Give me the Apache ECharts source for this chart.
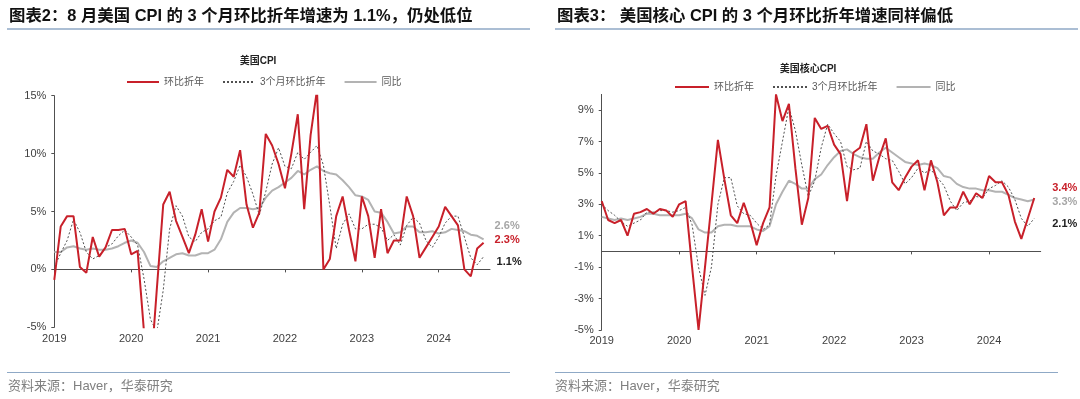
<!DOCTYPE html>
<html>
<head>
<meta charset="utf-8">
<script src="https://cdn.jsdelivr.net/npm/echarts@6/dist/echarts.min.js"></script>
<style>
  html, body { margin: 0; padding: 0; background: #fff; }
  #main { width: 1080px; height: 399px; }
</style>
</head>
<body>
<div id="main"></div>
<script>
// months 2019-01 .. 2024-09 (data runs to 2024-08)
const months = [];
for (let y = 2019; y <= 2024; y++) {
  for (let m = 1; m <= 12; m++) {
    if (y === 2024 && m > 9) break;
    months.push(y + '-' + String(m).padStart(2, '0'));
  }
}

// 美国CPI
const cpiMom = [
  -0.9, 3.7, 4.6, 4.6, 0.2, -0.3, 2.8, 1.1, 1.9, 3.4, 3.4, 3.5,
  1.3, 1.6, -5.4, -9.2, -1.7, 5.6, 6.7, 4.2, 2.8, 1.4, 3.0, 5.2,
  2.4, 5.0, 6.2, 8.6, 8.0, 10.3, 5.6, 3.6, 4.9, 11.7, 10.7, 9.1,
  7.0, 10.0, 13.4, 5.2, 11.6, 15.5, 0.0, 0.9, 4.6, 6.3, 3.4, 0.7,
  6.3, 4.6, 1.0, 5.2, 1.4, 2.5, 2.5, 6.3, 4.6, 1.0, 1.9, 2.8,
  3.7, 5.4, 4.6, 3.8, 0.0, -0.6, 1.8, 2.3
];
const cpi3m = [
  0.2, 1.4, 2.5, 4.3, 3.2, 1.5, 0.9, 1.2, 1.9, 2.2, 2.9, 3.4,
  2.8, 2.1, -0.8, -4.3, -5.4, -1.8, 3.5, 5.5, 4.6, 2.8, 2.4, 3.2,
  3.5, 4.2, 4.5, 6.6, 7.6, 9.0, 8.0, 6.5, 4.7, 6.7, 9.1, 10.5,
  8.9, 8.7, 10.1, 9.5, 10.1, 10.7, 9.0, 5.5, 1.8, 3.9, 4.8, 3.5,
  3.5, 3.9, 3.9, 3.6, 2.5, 3.0, 2.1, 3.8, 4.5, 4.0, 2.5, 1.9,
  2.8, 4.0, 4.6, 4.6, 2.8, 1.0, 0.4, 1.1
];
const cpiYoy = [
  1.5, 1.5, 1.9, 2.0, 1.8, 1.7, 1.8, 1.7, 1.7, 1.8, 2.0, 2.3,
  2.5, 2.3, 1.5, 0.3, 0.2, 0.7, 1.0, 1.3, 1.4, 1.2, 1.2, 1.4,
  1.4, 1.7, 2.6, 4.1, 4.9, 5.3, 5.3, 5.2, 5.3, 6.2, 6.8, 7.1,
  7.5, 7.9, 8.5, 8.2, 8.6, 8.9, 8.5, 8.3, 8.2, 7.7, 7.1, 6.4,
  6.3, 6.0, 5.0, 4.9, 4.1, 3.1, 3.2, 3.7, 3.7, 3.2, 3.2, 3.3,
  3.1, 3.2, 3.5, 3.4, 3.3, 3.0, 2.9, 2.6
];

// 美国核心CPI
const coreMom = [
  3.2, 2.0, 1.8, 2.0, 1.0, 2.4, 2.5, 2.7, 2.4, 2.7, 2.6, 2.2,
  3.0, 3.2, -1.0, -5.0, -1.0, 3.0, 7.1, 4.6, 2.3, 1.8, 3.1, 1.9,
  0.4, 1.8, 2.8, 10.0, 8.3, 9.4, 5.3, 1.7, 3.4, 8.5, 7.8, 8.0,
  6.8, 6.2, 3.2, 6.3, 6.6, 8.1, 4.5, 6.0, 7.2, 4.4, 3.9, 4.7,
  5.4, 5.8, 3.9, 5.8, 4.4, 2.3, 2.8, 2.8, 3.8, 3.0, 3.7, 3.4,
  4.8, 4.4, 4.4, 3.6, 1.9, 0.8, 2.1, 3.4
];
const core3m = [
  3.0, 2.6, 2.3, 1.9, 1.6, 1.8, 2.0, 2.5, 2.5, 2.6, 2.6, 2.5,
  2.6, 2.8, 1.7, -1.0, -2.8, -1.0, 3.0, 4.7, 4.7, 2.9, 2.4, 2.3,
  1.8, 1.4, 1.7, 4.8, 7.0, 9.2, 7.7, 5.5, 3.5, 4.5, 6.6, 8.1,
  7.5, 7.0, 5.4, 5.2, 5.3, 7.0, 6.4, 6.2, 5.9, 5.8, 5.1, 4.3,
  4.7, 5.3, 5.0, 5.2, 4.7, 4.2, 3.2, 2.6, 3.1, 3.2, 3.5, 3.4,
  4.0, 4.2, 4.5, 4.1, 3.3, 2.1, 1.6, 2.1
];
const coreYoy = [
  2.2, 2.1, 2.0, 2.1, 2.0, 2.1, 2.2, 2.4, 2.4, 2.3, 2.3, 2.3,
  2.3, 2.4, 2.1, 1.4, 1.2, 1.2, 1.6, 1.7, 1.7, 1.6, 1.6, 1.6,
  1.4, 1.3, 1.6, 3.0, 3.8, 4.5, 4.3, 4.0, 4.0, 4.6, 4.9, 5.5,
  6.0, 6.4, 6.5, 6.2, 6.0, 5.9, 5.9, 6.3, 6.6, 6.3, 6.0, 5.7,
  5.6, 5.5, 5.6, 5.5, 5.3, 4.8, 4.7, 4.3, 4.1, 4.0, 4.0, 3.9,
  3.9, 3.8, 3.8, 3.6, 3.4, 3.3, 3.2, 3.3
];

const names = ['环比折年', '3个月环比折年', '同比'];
const RED = '#c8202a', DOT = '#505050', GRAY = '#b3b3b3';
const FONT = '"Liberation Sans", Arial, "Noto Sans CJK SC", sans-serif';

const chart = echarts.init(document.getElementById('main'));

function labelAxis(grid) {
  return {
    type: 'category', gridIndex: grid, data: months, boundaryGap: false,
    position: 'bottom', axisLine: { show: false, onZero: false },
    axisTick: { show: false },
    axisLabel: {
      interval: 11, margin: 6, color: '#404040', fontSize: 11, fontFamily: FONT,
      formatter: v => v.slice(0, 4)
    }
  };
}
function zeroAxis(grid) {
  return {
    type: 'category', gridIndex: grid, data: months, boundaryGap: false,
    position: 'top',
    axisLine: { show: true, onZero: true, lineStyle: { color: '#505050', width: 1 } },
    axisTick: { show: true, inside: true, interval: 11, length: 3, lineStyle: { color: '#505050' } },
    axisLabel: { show: false }
  };
}
function valAxis(grid, min, max, step, showMax) {
  return {
    type: 'value', gridIndex: grid, min: min, max: max, interval: step,
    axisLine: { show: true, lineStyle: { color: '#505050', width: 1 } },
    axisTick: { show: true, length: 3, lineStyle: { color: '#505050' } },
    splitLine: { show: false },
    axisLabel: {
      margin: 8, color: '#404040', fontSize: 11, fontFamily: FONT,
      showMaxLabel: showMax,
      formatter: '{value}%'
    }
  };
}
function line(name, data, xi, yi, color, width, type, z, lbl) {
  return {
    name: name, type: 'line', data: data, xAxisIndex: xi, yAxisIndex: yi,
    symbol: 'none', z: z, clip: true,
    lineStyle: { color: color, width: width, type: type },
    itemStyle: { color: color },
    endLabel: {
      show: true, distance: 0, offset: lbl.offset,
      formatter: p => Number(p.value).toFixed(1) + '%',
      color: lbl.color, fontSize: 11, fontWeight: 'bold', fontFamily: FONT
    }
  };
}
function legendAt(left, top, w) {
  return {
    data: names, left: left, top: top, padding: 0, itemGap: 18,
    itemWidth: w, itemHeight: 12,
    itemStyle: { opacity: 0 },
    textStyle: { fontSize: 10, color: '#595959', fontFamily: FONT }
  };
}

chart.setOption({
  animation: false,
  title: [
    {
      text: '图表2：8 月美国 CPI 的 3 个月环比折年增速为 1.1%，仍处低位',
      left: 9, top: 8, padding: 0,
      textStyle: { fontSize: 16.4, fontWeight: 'bold', color: '#111', fontFamily: FONT }
    },
    {
      text: '图表3： 美国核心 CPI 的 3 个月环比折年增速同样偏低',
      left: 557, top: 8, padding: 0,
      textStyle: { fontSize: 16.4, fontWeight: 'bold', color: '#111', fontFamily: FONT }
    }
  ],
  legend: [legendAt(126, 77, 32), legendAt(674, 82, 34)],
  grid: [
    { left: 54.3, right: 590, top: 95.7, bottom: 71.7 },
    { left: 601.7, right: 39.3, top: 94.4, bottom: 69.1 }
  ],
  xAxis: [labelAxis(0), zeroAxis(0), labelAxis(1), zeroAxis(1)],
  yAxis: [valAxis(0, -5, 15, 5, true), valAxis(1, -5, 10, 2, false)],
  series: [
    line(names[2], cpiYoy, 0, 0, GRAY, 2, 'solid', 2, { color: '#a6a6a6', offset: [11, -13] }),
    line(names[1], cpi3m, 0, 0, DOT, 1, [2, 2], 3, { color: '#222', offset: [13, 5] }),
    line(names[0], cpiMom, 0, 0, RED, 2, 'solid', 4, { color: RED, offset: [11, -3] }),
    line(names[2], coreYoy, 2, 1, GRAY, 2, 'solid', 2, { color: '#a6a6a6', offset: [18, 2] }),
    line(names[1], core3m, 2, 1, DOT, 1, [2, 2], 3, { color: '#222', offset: [18, 6] }),
    line(names[0], coreMom, 2, 1, RED, 2, 'solid', 4, { color: RED, offset: [18, -10] })
  ],
  graphic: [
    { type: 'line', shape: { x1: 7, y1: 29, x2: 530, y2: 29 }, style: { stroke: '#8fa9c6', lineWidth: 1.5 } },
    { type: 'line', shape: { x1: 555, y1: 29, x2: 1078, y2: 29 }, style: { stroke: '#8fa9c6', lineWidth: 1.5 } },
    { type: 'line', shape: { x1: 7, y1: 372.5, x2: 510, y2: 372.5 }, style: { stroke: '#8fa9c6', lineWidth: 1.2 } },
    { type: 'line', shape: { x1: 555, y1: 372.5, x2: 1058, y2: 372.5 }, style: { stroke: '#8fa9c6', lineWidth: 1.2 } },
    {
      type: 'text', x: 258, y: 61,
      style: { text: '美国CPI', fill: '#222', fontSize: 10, fontWeight: 'bold', fontFamily: FONT, textAlign: 'center', textVerticalAlign: 'middle' }
    },
    {
      type: 'text', x: 808, y: 69,
      style: { text: '美国核心CPI', fill: '#222', fontSize: 10, fontWeight: 'bold', fontFamily: FONT, textAlign: 'center', textVerticalAlign: 'middle' }
    },
    {
      type: 'text', x: 8, y: 386,
      style: { text: '资料来源：Haver，华泰研究', fill: '#808080', fontSize: 13, fontFamily: FONT, textVerticalAlign: 'middle' }
    },
    {
      type: 'text', x: 555, y: 386,
      style: { text: '资料来源：Haver，华泰研究', fill: '#808080', fontSize: 13, fontFamily: FONT, textVerticalAlign: 'middle' }
    }
  ]
});
</script>
</body>
</html>
